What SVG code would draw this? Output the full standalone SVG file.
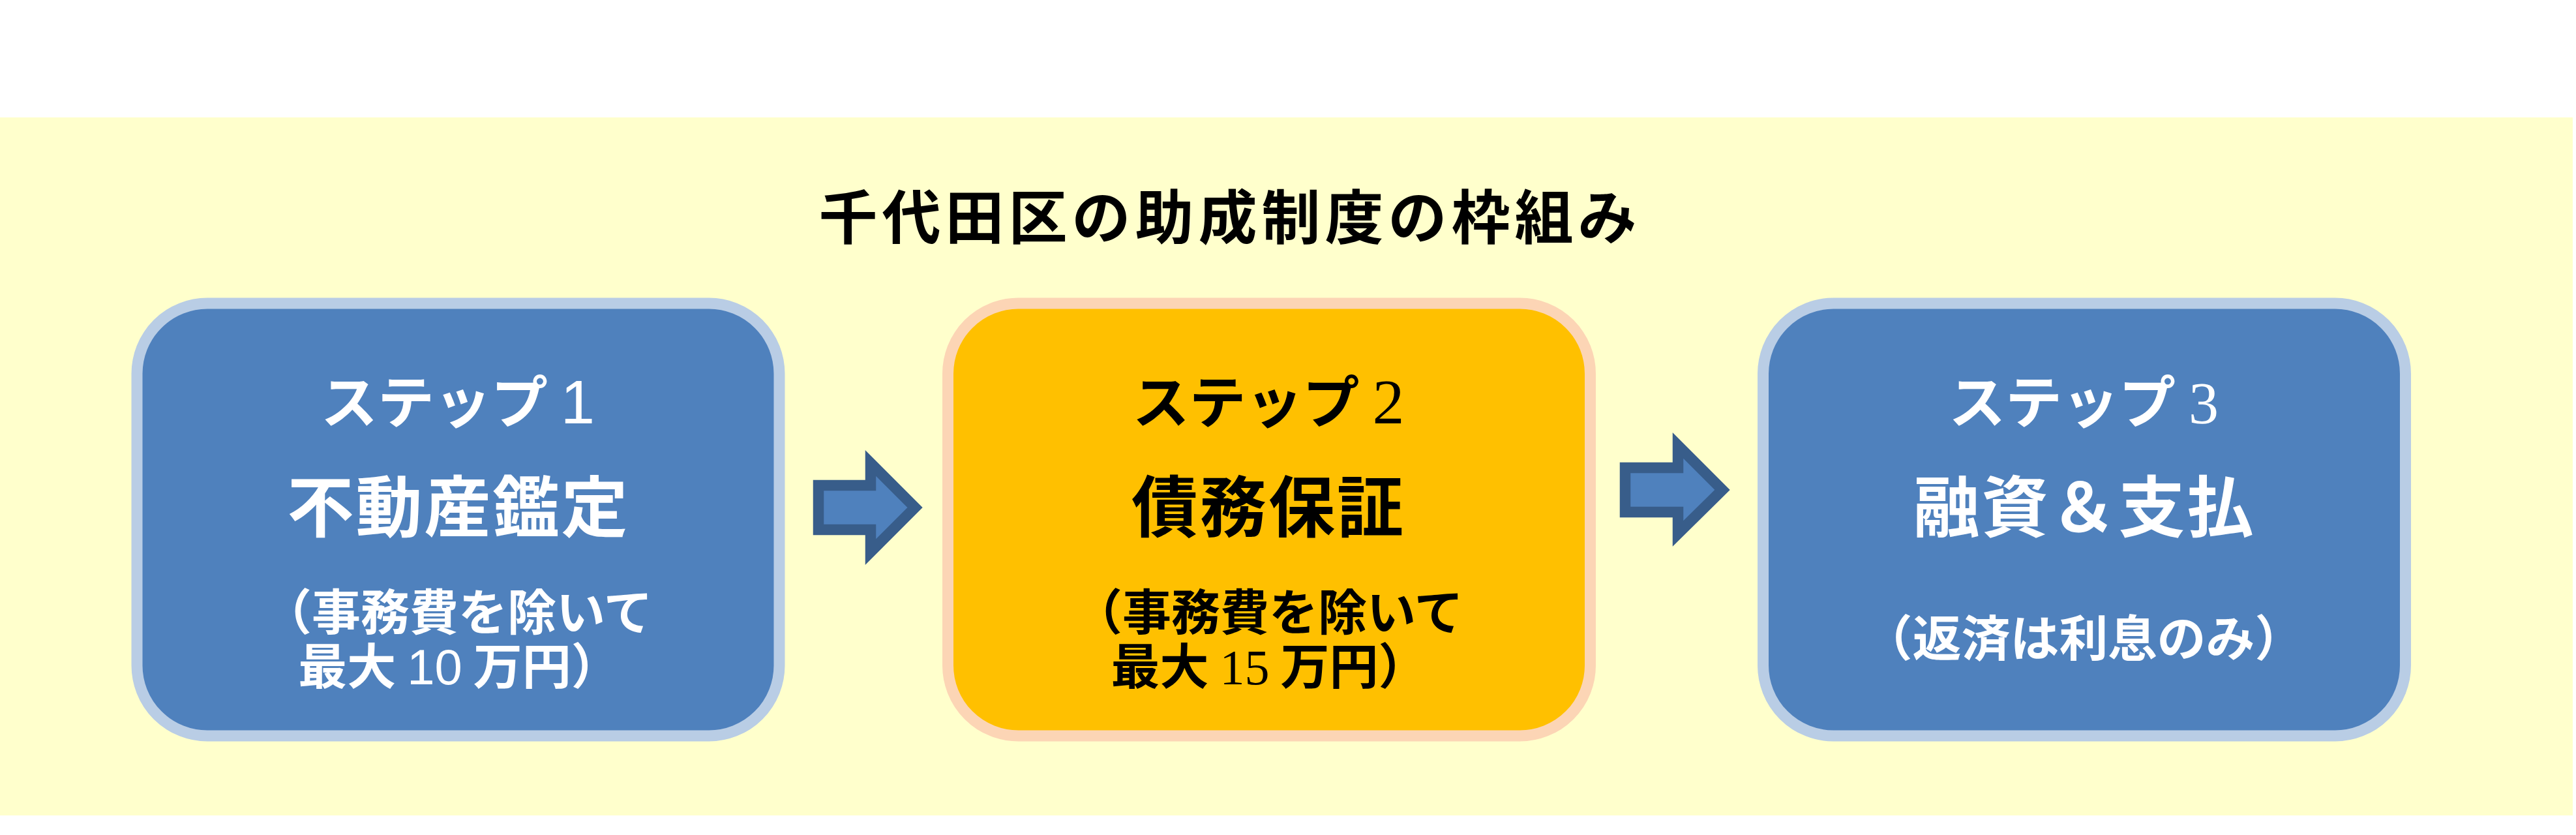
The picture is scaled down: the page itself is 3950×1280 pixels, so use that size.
<svg xmlns="http://www.w3.org/2000/svg" width="3950" height="1280" viewBox="0 0 3950 1280">
  <style>
    .band { fill: #FFFFCC; }
    .blue { fill: #4F81BD; stroke: #B9CDE5; stroke-width: 17; }
    .orange { fill: #FFC000; stroke: #FCD5B5; stroke-width: 17; }
    .arrow { fill: #4F81BD; stroke: #385D8A; stroke-width: 16.5; stroke-linejoin: miter; stroke-miterlimit: 10; }
    text { font-family: "Noto Sans CJK JP", "Noto Sans CJK SC", sans-serif; text-anchor: middle; font-weight: bold; }
    .title { font-size: 90px; letter-spacing: 7px; fill: #000000; }
    .step { font-size: 87px; }
    .main { font-size: 102px; letter-spacing: 3px; }
    .sub { font-size: 75px; }
    .serif { font-family: "Liberation Serif", serif; font-weight: normal; }
    .sans { font-family: "Liberation Sans", sans-serif; font-weight: normal; }
    .w { fill: #FFFFFF; }
    .k { fill: #000000; }
  </style>
  <rect class="band" x="0" y="180" width="3945" height="1070"/>
  <text id="title" class="title" x="1886" y="366">千代田区の助成制度の枠組み</text>

  <g id="step1">
    <rect class="blue" x="210" y="465" width="985" height="663" rx="108" ry="108"/>
    <text class="step w" x="702" y="649">ステップ <tspan class="sans" font-size="94">1</tspan></text>
    <text class="main w" x="703" y="815">不動産鑑定</text>
    <text class="sub w"><tspan x="702" y="966">（事務費を除いて</tspan><tspan x="704" y="1049">最大 <tspan class="sans" font-size="76">10</tspan> 万円）</tspan></text>
  </g>

  <g id="step2">
    <rect class="orange" x="1453.5" y="465" width="985" height="663" rx="108" ry="108"/>
    <text class="step k" x="1945" y="649">ステップ <tspan class="serif" font-size="98">2</tspan></text>
    <text class="main k" x="1945" y="815">債務保証</text>
    <text class="sub k"><tspan x="1945" y="966">（事務費を除いて</tspan><tspan x="1946" y="1049">最大 <tspan class="serif" font-size="76">15</tspan> 万円）</tspan></text>
  </g>

  <g id="step3">
    <rect class="blue" x="2703.5" y="465" width="985" height="663" rx="108" ry="108"/>
    <text class="step w" x="3195" y="649">ステップ <tspan class="serif" font-size="92">3</tspan></text>
    <text class="main w" x="3196" y="815">融資＆支払</text>
    <text class="sub w" x="3195" y="1006">（返済は利息のみ）</text>
  </g>

  <g id="connectors">
    <path class="arrow" d="M1255,744 H1335 V710 L1403,778 L1335,846 V812 H1255 Z"/>
    <path class="arrow" d="M2492,717 H2573 V683 L2641,751 L2573,818 V785 H2492 Z"/>
  </g>
</svg>
